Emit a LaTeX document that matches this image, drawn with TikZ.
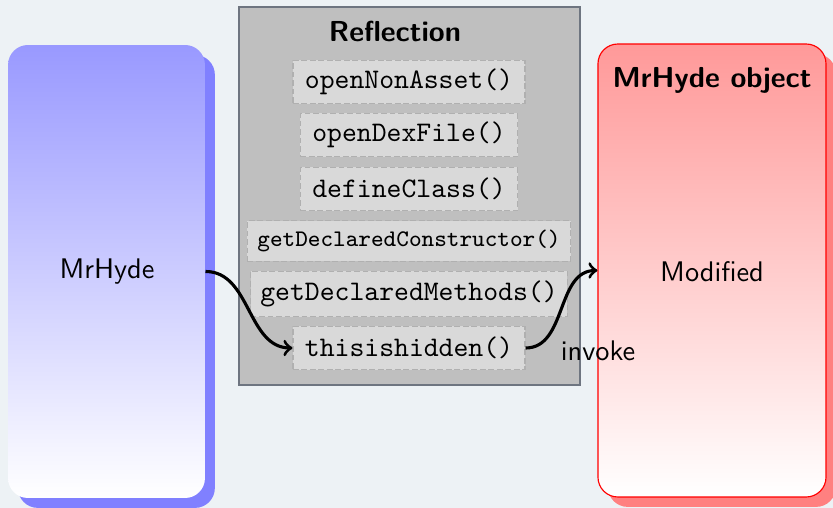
\documentclass[tikz,border=0pt]{standalone}
\usetikzlibrary{shadows}
\definecolor{canvas}{RGB}{237,242,245}
\definecolor{framegray}{RGB}{110,117,128}
\definecolor{dashgray}{RGB}{176,176,176}
\begin{document}
\begin{tikzpicture}[x=0.353pt,y=-0.353pt,
  every node/.style={inner sep=0pt},
  panel/.style={rounded corners=7pt, minimum height=159.9pt},
  heading/.style={font=\sffamily\bfseries\fontsize{10.2}{12}\selectfont},
  method/.style={draw=dashgray, dash pattern=on 2pt off 1pt, fill=gray!30,
    font=\ttfamily, inner xsep=4.2pt, inner ysep=0pt, minimum height=15.2pt},
  flow/.style={->, line width=1.1pt}]
  % background
  \fill[canvas] (0,0) rectangle (833,508);
  \useasboundingbox (0,0) rectangle (833,508);

  % class panel on the left
  \node (hyde) [panel, minimum width=69.5pt, top color=blue!40, bottom color=white,
    drop shadow={shadow xshift=3.5pt, shadow yshift=-3.5pt, fill=blue!50, opacity=1}]
    at (106.5,271.5) {};
  \node (hydetxt) at (107,272) {\sffamily MrHyde};

  % reflection block with its methods
  \node (refl) [draw=framegray, fill=gray!50, minimum width=120.4pt, minimum height=133.4pt]
    at (409.5,196) {};
  \node (refltitle) [heading] at (395,31) {Reflection};
  \node (m1) [method] at (409,82) {openNonAsset()};
  \node (m2) [method] at (409,135) {openDexFile()};
  \node (m3) [method] at (409,189) {defineClass()};
  \node (m4) [method, inner xsep=3.5pt, minimum height=14.4pt, font=\ttfamily\fontsize{8.4}{10}\selectfont] at (409,241) {getDeclaredConstructor()};
  \node (m5) [method, inner xsep=3.4pt, minimum height=16pt] at (409,294) {getDeclaredMethods()};
  \node (hidden) [method] at (409,348) {thisishidden()};

  % object panel on the right
  \node (obj) [panel, draw=red, minimum width=80.5pt, top color=red!40, bottom color=white,
    drop shadow={shadow xshift=3.5pt, shadow yshift=-3.5pt, fill=red!50, opacity=1}]
    at (712,270.5) {};
  \node (objtitle) [heading] at (712,80) {MrHyde object};
  \node (objtxt) at (712,272) {\sffamily Modified};

  % call flow
  \draw[flow] (hyde.east) to[out=0,in=180] (hidden.west);
  \draw[flow] (hidden.east) to[out=0,in=180] (obj.west);
  \node (invoke) at (598,351) {\sffamily invoke};
\end{tikzpicture}
\end{document}
